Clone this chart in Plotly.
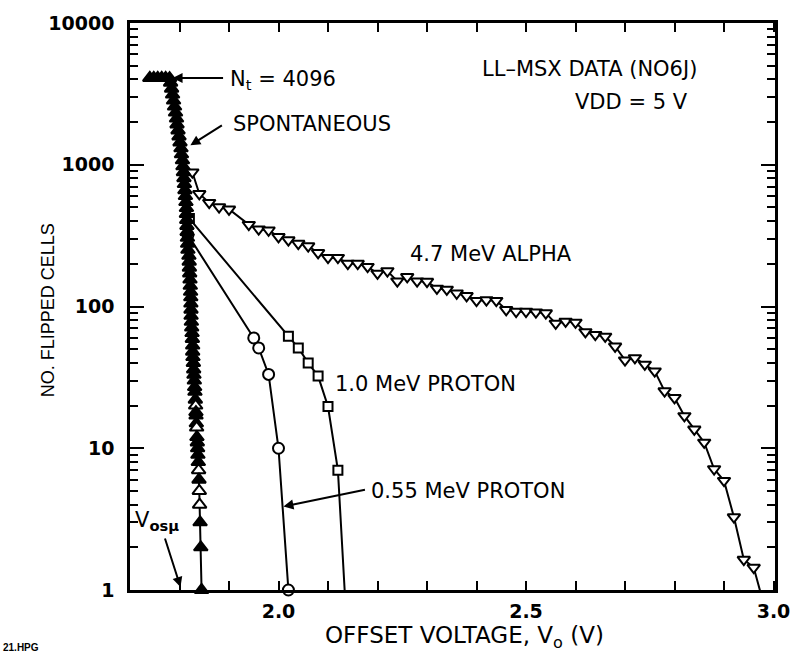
import plotly.graph_objects as go

# ---------------- data ----------------
spont_v = [1.740, 1.748, 1.756, 1.764, 1.772, 1.780, 1.782, 1.784, 1.786, 1.788,
           1.790, 1.792, 1.794, 1.795, 1.797, 1.799, 1.801, 1.803, 1.804, 1.806,
           1.807, 1.808, 1.809, 1.810, 1.811, 1.812, 1.813, 1.814, 1.814, 1.8146,
           1.815, 1.8154, 1.816, 1.8164, 1.817, 1.819, 1.8196, 1.820, 1.8206, 1.8212,
           1.8218, 1.8224, 1.8228, 1.823, 1.8232, 1.8234, 1.824, 1.8246, 1.8254, 1.826,
           1.8266, 1.8266, 1.8272, 1.828, 1.8286, 1.8292, 1.830, 1.8306, 1.8312, 1.832,
           1.8326, 1.8332, 1.8334, 1.834, 1.8346, 1.8352, 1.836, 1.8366, 1.8372, 1.838,
           1.8386, 1.8394, 1.840, 1.8406, 1.8416, 1.843, 1.8446]
spont_n = [4096, 4096, 4096, 4096, 4096, 4090, 3793, 3443, 3126, 2837,
           2575, 2336, 2120, 1924, 1746, 1585, 1438, 1306, 1185, 1076,
           976, 886, 804, 730, 662, 601, 546, 495, 450, 408,
           370, 336, 305, 277, 251, 228, 207, 188, 171, 155,
           140, 127, 116, 105, 95, 86, 78, 71, 65, 59,
           53, 48, 44, 40, 36, 33, 30, 27, 25, 22,
           20, 18, 17, 15, 14, 12, 11, 10, 9, 8,
           7, 6, 5, 4, 3, 2, 1]
spont_open_counts = [14, 20, 4, 5, 7]

alpha_v = [1.826, 1.84, 1.86, 1.88, 1.90, 1.94, 1.96, 1.98, 2.00, 2.02,
           2.04, 2.06, 2.08, 2.10, 2.12, 2.14, 2.16, 2.18, 2.20, 2.22,
           2.24, 2.26, 2.28, 2.30, 2.32, 2.34, 2.36, 2.38, 2.40, 2.42,
           2.44, 2.46, 2.48, 2.50, 2.52, 2.54, 2.56, 2.58, 2.60, 2.62,
           2.64, 2.66, 2.68, 2.70, 2.72, 2.74, 2.76, 2.78, 2.80, 2.82,
           2.84, 2.86, 2.88, 2.90, 2.92, 2.94, 2.96, 2.98]
alpha_n = [886, 624, 540, 503, 485, 378, 351, 345, 310, 294,
           278, 267, 239, 221, 221, 201, 201, 191, 171, 178,
           151, 162, 151, 150, 134, 132, 124, 119, 110, 111,
           110, 94.8, 92.2, 92.2, 91.2, 89.8, 76, 78.5, 77.2, 66.2,
           63.3, 61.5, 52.4, 41.8, 43.4, 39, 35, 25.3, 22.7, 16.9,
           13.6, 11, 7.14, 5.9, 3.27, 1.64, 1.44, 0.8]

p10_v = [1.82, 2.02, 2.04, 2.06, 2.08, 2.10, 2.12, 2.14]
p10_n = [417, 61.6, 51, 40, 32.3, 19.7, 7.0, 0.4]

p055_v = [1.817, 1.95, 1.96, 1.98, 2.00, 2.02]
p055_n = [320, 60, 51, 33.2, 10, 1]

x_major = [2.0, 2.5, 3.0]
x_major_text = ["2.0", "2.5", "3.0"]
y_major = [1, 10, 100, 1000, 10000]
y_major_text = ["1", "10", "100", "1000", "10000"]

# ---------------- figure ----------------
BLACK = "black"
fig = go.Figure()

fig.add_trace(go.Scatter(
    x=alpha_v, y=alpha_n, mode="lines+markers",
    line=dict(color=BLACK, width=2),
    marker=dict(symbol="triangle-down", size=11, color="white",
                line=dict(color=BLACK, width=2)),
    showlegend=False))

fig.add_trace(go.Scatter(
    x=p10_v, y=p10_n, mode="lines+markers",
    line=dict(color=BLACK, width=2),
    marker=dict(symbol="square", size=9, color="white",
                line=dict(color=BLACK, width=2)),
    showlegend=False))

fig.add_trace(go.Scatter(
    x=p055_v, y=p055_n, mode="lines+markers", cliponaxis=False,
    line=dict(color=BLACK, width=2),
    marker=dict(symbol="circle", size=11, color="white",
                line=dict(color=BLACK, width=2)),
    showlegend=False))

spont_fill = ["white" if n in spont_open_counts else BLACK for n in spont_n]
fig.add_trace(go.Scatter(
    x=spont_v, y=spont_n, mode="lines+markers", cliponaxis=False,
    line=dict(color=BLACK, width=2),
    marker=dict(symbol="triangle-up", size=12, color=spont_fill,
                line=dict(color=BLACK, width=2)),
    showlegend=False))

FONT_T = "DejaVu Sans"
ann_font = dict(family=FONT_T, size=21, color=BLACK)

annotations = [
    # arrows
    dict(x=1.786, y=3.612, ax=52, ay=0, text="", showarrow=True,
         arrowhead=2, arrowsize=1, arrowwidth=2, arrowcolor=BLACK),
    dict(x=1.822, y=3.137, ax=33, ay=-21, text="", showarrow=True,
         arrowhead=2, arrowsize=1, arrowwidth=2, arrowcolor=BLACK),
    dict(x=2.01, y=0.589, ax=83, ay=-17, text="", showarrow=True,
         arrowhead=2, arrowsize=1, arrowwidth=2, arrowcolor=BLACK),
    dict(x=1.802, y=0.021, ax=-16, ay=-50, text="", showarrow=True,
         arrowhead=2, arrowsize=1, arrowwidth=2, arrowcolor=BLACK),
    # labels
    dict(x=1.70 + (229 - 130) / 500, y=3.60, text="N<sub>t</sub> = 4096",
         xanchor="left", yanchor="middle", showarrow=False, font=ann_font),
    dict(x=1.70 + (232 - 130) / 500, y=(590 - 122) / 142.5, text="SPONTANEOUS",
         xanchor="left", yanchor="middle", showarrow=False, font=ann_font),
    dict(x=2.43, y=2.372, text="4.7 MeV ALPHA",
         xanchor="center", yanchor="middle", showarrow=False, font=ann_font),
    dict(x=2.296, y=1.453, text="1.0 MeV PROTON",
         xanchor="center", yanchor="middle", showarrow=False, font=ann_font),
    dict(x=1.70 + (371 - 130) / 500, y=0.695, text="0.55 MeV PROTON",
         xanchor="left", yanchor="middle", showarrow=False, font=ann_font),
    dict(x=2.628, y=3.677, text="LL–MSX DATA (NO6J)",
         xanchor="center", yanchor="middle", showarrow=False, font=ann_font),
    dict(x=2.714, y=3.446, text="VDD = 5 V",
         xanchor="center", yanchor="middle", showarrow=False, font=ann_font),
    dict(x=1.755, y=0.49, text="V<sub><b>osμ</b></sub>",
         xanchor="center", yanchor="middle", showarrow=False, font=ann_font),
    # axis titles
    dict(xref="paper", yref="paper", x=-0.1258, y=0.493, textangle=-90,
         text="NO. FLIPPED CELLS", showarrow=False,
         xanchor="center", yanchor="middle",
         font=dict(family="Liberation Sans", size=18, color=BLACK)),
    dict(xref="paper", yref="paper", x=0.518, y=-0.083,
         text="OFFSET VOLTAGE, V<sub>o</sub> (V)", showarrow=False,
         xanchor="center", yanchor="middle",
         font=dict(family="DejaVu Sans", size=23, color=BLACK)),
    dict(xref="paper", yref="paper", x=-0.2, y=-0.101,
         text="<b>21.HPG</b>", showarrow=False,
         xanchor="left", yanchor="middle",
         font=dict(family="Liberation Sans", size=10, color=BLACK)),
]

minor_y = [m * 10 ** k for k in range(4) for m in range(2, 10)]

fig.update_layout(
    width=802, height=664,
    margin=dict(l=130, r=20, t=20, b=74),
    paper_bgcolor="white", plot_bgcolor="white",
    annotations=annotations,
    xaxis=dict(
        range=[1.7, 3.003], showgrid=False, zeroline=False,
        showline=True, linecolor=BLACK, linewidth=2.5, mirror="allticks",
        tickmode="array", tickvals=x_major, ticktext=x_major_text,
        ticks="inside", ticklen=9, tickwidth=2, tickcolor=BLACK,
        ticklabelstandoff=2,
        tickfont=dict(family="DejaVu Sans", size=19, color=BLACK, weight="bold"),
        minor=dict(dtick=0.1, tick0=0, ticks="inside", ticklen=9, tickwidth=2,
                   tickcolor=BLACK, showgrid=False),
    ),
    yaxis=dict(
        type="log", range=[0, 4], showgrid=False, zeroline=False,
        showline=True, linecolor=BLACK, linewidth=2.5, mirror="allticks",
        tickmode="array", tickvals=y_major, ticktext=y_major_text,
        ticks="inside", ticklen=14, tickwidth=2, tickcolor=BLACK,
        ticklabelstandoff=9,
        tickfont=dict(family="DejaVu Sans", size=19, color=BLACK, weight="bold"),
        minor=dict(tickmode="array", tickvals=minor_y, ticks="inside", ticklen=8,
                   tickwidth=2, tickcolor=BLACK, showgrid=False),
    ),
)

fig.write_html("out.html")
